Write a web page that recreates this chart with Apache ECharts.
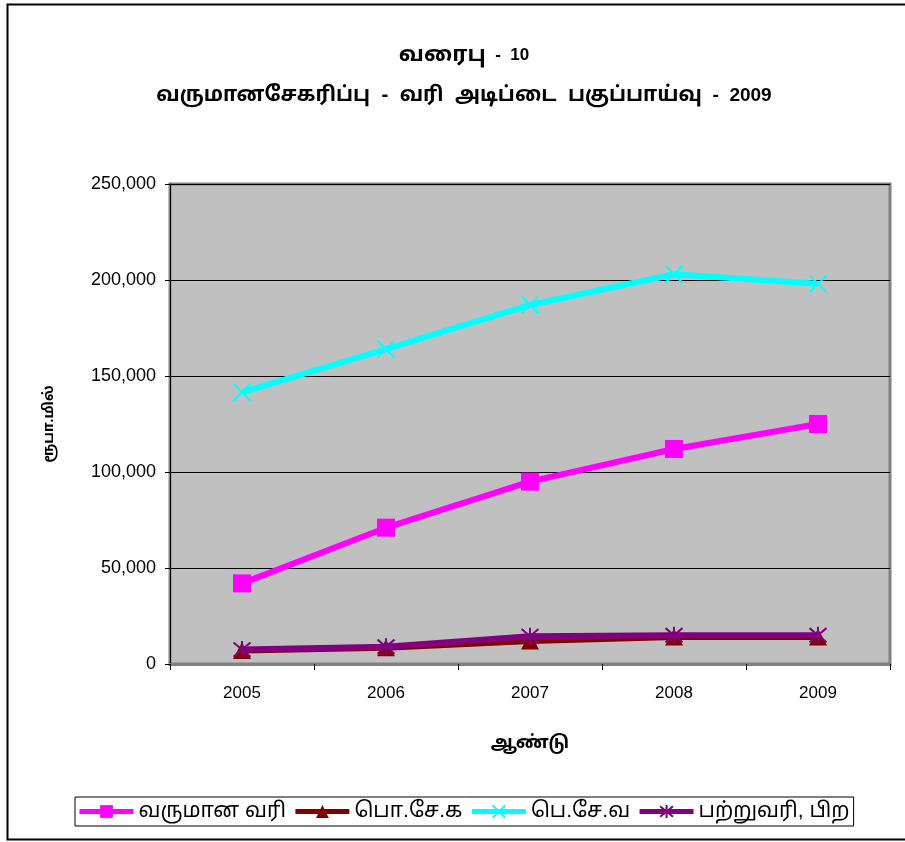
<!DOCTYPE html>
<html>
<head>
<meta charset="utf-8">
<script src="https://cdn.jsdelivr.net/npm/echarts@6/dist/echarts.min.js"></script>
<style>
html,body{margin:0;padding:0;background:#fff;}
#c{width:905px;height:842px;}
</style>
</head>
<body>
<div id="c"></div>
<script>
var years = ['2005', '2006', '2007', '2008', '2009'];
var incomeTax = [42000, 71000, 95000, 112000, 125000];        // வருமான வரி
var gst = [7000, 8500, 12000, 14000, 14000];                   // பொ.சே.க
var vat = [141500, 164000, 187000, 203000, 198000];            // பெ.சே.வ
var debitOther = [7500, 9000, 14500, 15000, 15000];            // பற்றுவரி, பிற
var seriesNames = ['வருமான வரி', 'பொ.சே.க', 'பெ.சே.வ', 'பற்றுவரி, பிற'];
var titleTamil1 = 'வரைபு';
var titleNum1 = '  -  10';
var titleTamil2 = 'வருமானசேகரிப்பு  -  வரி  அடிப்டை  பகுப்பாய்வு';
var titleNum2 = '  -  2009';

var FONT = '"Liberation Sans", Arial, "Noto Sans Tamil", "Noto Sans Tamil UI", "Noto Sans", sans-serif';
var chart = echarts.init(document.getElementById('c'), null, {renderer: 'canvas'});

var xPath = 'path://M0 0L10 10M10 0L0 10';
var starPath = 'path://M0 0L10 10M10 0L0 10M5 -1L5 11';

chart.setOption({
  backgroundColor: '#ffffff',
  animation: false,
  graphic: [{
    type: 'rect',
    shape: {x: 7.5, y: 4.5, width: 910, height: 835},
    style: {fill: 'none', stroke: '#000', lineWidth: 2},
    silent: true
  }],
  title: [{
    text: '{t|' + titleTamil1 + '}{n|' + titleNum1 + '}',
    left: 459, top: 39, textAlign: 'center',
    textStyle: {
      fontFamily: FONT, fontWeight: 'bold', color: '#000',
      rich: {
        t: {fontFamily: FONT, fontSize: 22, fontWeight: 'bold', color: '#000'},
        n: {fontFamily: FONT, fontSize: 17, fontWeight: 'bold', color: '#000'}
      }
    }
  }, {
    text: '{t|' + titleTamil2 + '}{n|' + titleNum2 + '}',
    left: 459, top: 80, textAlign: 'center',
    textStyle: {
      fontFamily: FONT, fontWeight: 'bold', color: '#000',
      rich: {
        t: {fontFamily: FONT, fontSize: 20.5, fontWeight: 'bold', color: '#000'},
        n: {fontFamily: FONT, fontSize: 19, fontWeight: 'bold', color: '#000'}
      }
    }
  }],
  grid: {
    left: 170, right: 15, top: 184, bottom: 178,
    show: true, backgroundColor: '#C0C0C0', borderColor: '#808080', borderWidth: 3
  },
  legend: {
    left: 75, top: 797,
    padding: [4, 4, 4, 2],
    borderColor: '#000', borderWidth: 1,
    itemWidth: 54, itemHeight: 16, itemGap: 7,
    lineStyle: {width: 5},
    textStyle: {fontFamily: FONT, fontSize: 21, color: '#000'},
    data: seriesNames
  },
  xAxis: {
    type: 'category',
    data: years,
    boundaryGap: true,
    name: 'ஆண்டு',
    nameLocation: 'middle',
    nameGap: 70,
    nameTextStyle: {fontFamily: FONT, fontSize: 18, fontWeight: 'bold', color: '#000'},
    axisLine: {lineStyle: {color: '#808080', width: 3}},
    axisTick: {show: true, length: 6, lineStyle: {color: '#000', width: 1}},
    axisLabel: {fontFamily: FONT, fontSize: 17, color: '#000', margin: 21},
    splitLine: {show: false}
  },
  yAxis: {
    type: 'value',
    min: 0, max: 250000, interval: 50000,
    name: 'ரூபா.மில்',
    nameLocation: 'middle',
    nameGap: 114,
    nameRotate: 90,
    nameTextStyle: {fontFamily: FONT, fontSize: 14, fontWeight: 'bold', color: '#000'},
    axisLine: {show: true, lineStyle: {color: '#000', width: 1}},
    axisTick: {show: true, length: 5, lineStyle: {color: '#000'}},
    axisLabel: {
      fontFamily: FONT, fontSize: 18, color: '#000', margin: 14,
      formatter: function (v) { return v.toLocaleString('en-US'); }
    },
    splitLine: {show: true, lineStyle: {color: '#000', width: 1}}
  },
  series: [{
    name: seriesNames[0], type: 'line', data: incomeTax,
    color: '#FF00FF',
    symbol: 'rect', symbolSize: 18,
    lineStyle: {width: 6, color: '#FF00FF'},
    itemStyle: {color: '#FF00FF'},
    z: 3
  }, {
    name: seriesNames[1], type: 'line', data: gst,
    color: '#800000',
    symbol: 'triangle', symbolSize: [18, 17],
    lineStyle: {width: 6, color: '#800000'},
    itemStyle: {color: '#800000'},
    z: 2
  }, {
    name: seriesNames[2], type: 'line', data: vat,
    color: '#00FFFF',
    symbol: xPath, symbolSize: 17,
    lineStyle: {width: 6, color: '#00FFFF'},
    itemStyle: {color: '#00FFFF', borderColor: '#00FFFF', borderWidth: 2},
    z: 3
  }, {
    name: seriesNames[3], type: 'line', data: debitOther,
    color: '#800080',
    symbol: starPath, symbolSize: 17,
    lineStyle: {width: 6, color: '#800080'},
    itemStyle: {color: '#800080', borderColor: '#800080', borderWidth: 2},
    z: 4
  }]
});
</script>
</body>
</html>
